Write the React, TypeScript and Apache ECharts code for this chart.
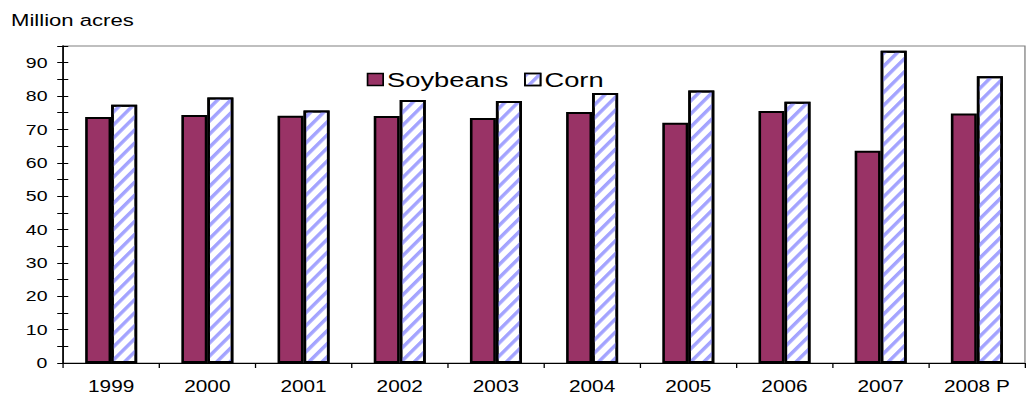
import React, { useEffect, useRef } from "react";
import * as echarts from "echarts";

const categories = ["1999", "2000", "2001", "2002", "2003", "2004", "2005", "2006", "2007", "2008 P"];
const soybeans = [73.7, 74.3, 74.1, 74.0, 73.4, 75.2, 72.0, 75.5, 63.6, 74.8];
const corn = [77.4, 79.6, 75.7, 78.8, 78.5, 80.9, 81.7, 78.3, 93.6, 85.9];
const yTicks = [0, 10, 20, 30, 40, 50, 60, 70, 80, 90];
const unitLabel = "Million acres";

const STRETCH = 1026 / 789;
const FONT = "'Liberation Sans', Arial, sans-serif";

export default function App() {
  const ref = useRef<HTMLDivElement>(null);
  useEffect(() => {
    if (!ref.current) return;
    const chart = echarts.init(ref.current, null, { renderer: "svg" });
    const option: any = {
      animation: false,
      backgroundColor: "#fff",
      textStyle: { fontFamily: FONT, color: "#000" },
      graphic: [
        {
          type: "text",
          left: 8.5,
          top: 11,
          style: { text: unitLabel, fontSize: 17, fontFamily: FONT, fill: "#000" },
        },
      ],
      legend: {
        left: 277,
        top: 64,
        icon: "rect",
        itemWidth: 12,
        itemHeight: 12,
        itemGap: 12,
        itemStyle: { borderColor: "#000", borderWidth: 1.3 },
        textStyle: { fontSize: 21, fontFamily: FONT, color: "#000", padding: [0, 0, 0, -2] },
        data: ["Soybeans", "Corn"],
      },
      grid: {
        left: 48.5,
        right: 0.8,
        top: 46,
        bottom: 28,
        show: true,
        borderColor: "#808080",
        borderWidth: 1,
        containLabel: false,
      },
      xAxis: {
        type: "category",
        data: categories,
        boundaryGap: true,
        axisLine: { lineStyle: { color: "#000", width: 1 } },
        axisTick: { show: true, length: 5, lineStyle: { color: "#000" } },
        axisLabel: { fontSize: 16, fontFamily: FONT, color: "#000", margin: 15 },
        splitLine: { show: false },
      },
      yAxis: [
        {
          type: "value",
          min: 0,
          max: 95,
          interval: 5,
          axisLine: { show: true, lineStyle: { color: "#000", width: 1.3 } },
          axisTick: { show: true, length: 4.5, lineStyle: { color: "#000" } },
          axisLabel: {
            fontSize: 15,
            fontFamily: FONT,
            color: "#000",
            margin: 12,
            formatter: (v: number) => (yTicks.indexOf(v) >= 0 ? String(v) : ""),
          },
          splitLine: { show: false },
        },
        {
          type: "value",
          min: 0,
          max: 95,
          interval: 5,
          position: "left",
          axisLine: { show: false },
          axisTick: { show: true, inside: true, length: 4, lineStyle: { color: "#000" } },
          axisLabel: { show: false },
          splitLine: { show: false },
        },
      ],
      series: [
        {
          name: "Soybeans",
          type: "bar",
          data: soybeans,
          barWidth: 20,
          barGap: "0%",
          itemStyle: { color: "#993366", borderColor: "#000", borderWidth: 2 },
        },
        {
          name: "Corn",
          type: "bar",
          data: corn,
          barWidth: 20,
          barGap: "0%",
          itemStyle: {
            color: "#ffffff",
            borderColor: "#000",
            borderWidth: 2,
            decal: {
              symbol: "rect",
              symbolSize: 1,
              color: "#a3a3ff",
              backgroundColor: "#ffffff",
              dashArrayX: [1, 0],
              dashArrayY: [3, 5],
              rotation: -Math.PI * 0.29,
            },
          },
        },
      ],
    };
    chart.setOption(option);
    return () => chart.dispose();
  }, []);
  return (
    <div
      ref={ref}
      style={{
        position: "absolute",
        left: 0,
        top: 0,
        width: 789,
        height: 394,
        transform: `scaleX(${STRETCH})`,
        transformOrigin: "0 0",
      }}
    />
  );
}
